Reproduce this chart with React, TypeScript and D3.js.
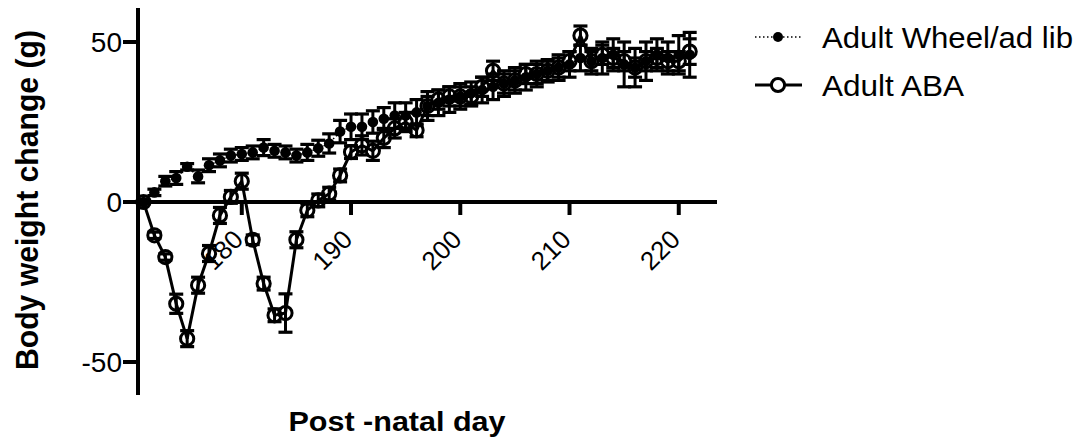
import React from 'react';
import * as d3 from 'd3';

const days = [171,172,173,174,175,176,177,178,179,180,181,182,183,184,185,186,187,188,189,190,191,192,193,194,195,196,197,198,199,200,201,202,203,204,205,206,207,208,209,210,211,212,213,214,215,216,217,218,219,220,221];

const wheelMean = [0,3,6.5,7.5,11,8,11.5,13,14.5,15,15.5,17,16,15.5,14.5,15.5,16.8,18.3,22,23.5,23.5,25,26,27,27,28,30,31,32,33,34,35,36,37,38,39,40,41,42,43,45,44,45,46,43,42,44,46,45,46,46];
const wheelSem = [0.5,1,1.5,2,1,2,2,2,2,2,2,2.5,2,2,2,2.5,2.5,3,3.5,4,4,3.5,3.5,4,4,4,4.5,4,4,4,3.5,4,4,4,4,4,4,3.5,4,4,4,4,5,5,7,6,6,5,5,6,7];

const abaMean = [0,-10.4,-17.2,-31.8,-42.7,-26,-16.1,-4.2,1.6,6.5,-11.8,-25.5,-35.4,-34.7,-11.8,-2.6,0.5,2.6,8.3,15.6,17.7,16,20,23,25,22.4,30,32,33,33,33,36,41,37,38,40,40,41,42,44,52,44,46,45,44,42,44,45,44,44,47];
const abaSem = [0.5,1,1,3,2.5,2.5,2.5,2.5,2,2.5,1.5,2,2,6,2.5,2,2,2,2,2,3,3,3,3,3,2,3,3,3,3,3,3,3,3,3,3,3,3,3,3,3,3,3,3,3,3,3,3,3,3,4];

const xTicks = [180,190,200,210,220];
const yTicks = [-50,0,50];
const legendLabels = ['Adult Wheel/ad lib','Adult ABA'];
const xTitle = 'Post -natal day';
const yTitle = 'Body weight change (g)';

const FONT = 'Liberation Sans, Arial, Helvetica, sans-serif';

export default function App() {
  const x = d3.scaleLinear().domain([170.5, 223.5]).range([138, 717]);
  const y = d3.scaleLinear().domain([-60, 60]).range([394, 10]);
  const line = d3.line<number>().x((_, i) => x(days[i])).y(d => y(d));
  const cap = 7;

  const errBars = (mean: number[], sem: number[], key: string) =>
    mean.map((m, i) => {
      const cx = x(days[i]);
      const y1 = y(m - sem[i]);
      const y2 = y(m + sem[i]);
      return (
        <g key={key + i}>
          <line x1={cx} x2={cx} y1={y1} y2={y2} stroke="#000" strokeWidth={3} />
          <line x1={cx - cap} x2={cx + cap} y1={y1} y2={y1} stroke="#000" strokeWidth={3.2} />
          <line x1={cx - cap} x2={cx + cap} y1={y2} y2={y2} stroke="#000" strokeWidth={3.2} />
        </g>
      );
    });

  return (
    <svg width={1090} height={445} style={{ position: 'absolute', left: 0, top: 0, background: '#fff' }} fontFamily={FONT}>
      <rect x={0} y={0} width={1090} height={445} fill="#fff" />
      {/* y title */}
      <text transform={`translate(38,200) rotate(-90)`} textAnchor="middle" fontSize={31} fontWeight="bold" fill="#000" textLength={340} lengthAdjust="spacingAndGlyphs">{yTitle}</text>
      {/* x title */}
      <text x={397} y={431} textAnchor="middle" fontSize={28} fontWeight="bold" fill="#000" textLength={217} lengthAdjust="spacingAndGlyphs">{xTitle}</text>

      {/* x tick labels (under data) */}
      {xTicks.map(t => (
        <text key={'xl' + t} transform={`translate(${x(t) + 3},241) rotate(-45)`} textAnchor="end" fontSize={26} fill="#000">{t}</text>
      ))}

      {/* axes */}
      <line x1={138} x2={138} y1={y(60) - 2} y2={y(-60) + 1} stroke="#000" strokeWidth={4} />
      <line x1={136} x2={717} y1={y(0)} y2={y(0)} stroke="#000" strokeWidth={4} />
      {yTicks.map(t => (
        <g key={'yt' + t}>
          <line x1={123} x2={138} y1={y(t)} y2={y(t)} stroke="#000" strokeWidth={4} />
          <text x={122} y={y(t)} dy="0.36em" textAnchor="end" fontSize={28} fill="#000">{t}</text>
        </g>
      ))}
      {xTicks.map(t => (
        <line key={'xt' + t} x1={x(t)} x2={x(t)} y1={y(0)} y2={y(0) + 13} stroke="#000" strokeWidth={4} />
      ))}

      {/* Wheel series */}
      <path d={line(wheelMean) || ''} fill="none" stroke="#000" strokeWidth={1.5} strokeDasharray="1.5,2.5" />
      {errBars(wheelMean, wheelSem, 'w')}
      {wheelMean.map((m, i) => (
        <circle key={'wc' + i} cx={x(days[i])} cy={y(m)} r={5.3} fill="#000" />
      ))}

      {/* ABA series */}
      <path d={line(abaMean) || ''} fill="none" stroke="#000" strokeWidth={3} />
      {errBars(abaMean, abaSem, 'a')}
      {abaMean.map((m, i) => (
        <circle key={'ac' + i} cx={x(days[i])} cy={y(m)} r={6.6} fill="none" stroke="#000" strokeWidth={3} />
      ))}

      {/* legend */}
      <line x1={755} x2={802} y1={37} y2={37} stroke="#000" strokeWidth={1.5} strokeDasharray="1.5,2.5" />
      <circle cx={778} cy={37} r={5} fill="#000" />
      <text x={822} y={47.5} fontSize={29} fill="#000" textLength={251} lengthAdjust="spacingAndGlyphs">{legendLabels[0]}</text>
      <line x1={755} x2={802} y1={85} y2={85} stroke="#000" strokeWidth={3} />
      <circle cx={778} cy={85} r={6.6} fill="#fff" stroke="#000" strokeWidth={3} />
      <text x={822} y={95.5} fontSize={29} fill="#000" textLength={142} lengthAdjust="spacingAndGlyphs">{legendLabels[1]}</text>
    </svg>
  );
}
